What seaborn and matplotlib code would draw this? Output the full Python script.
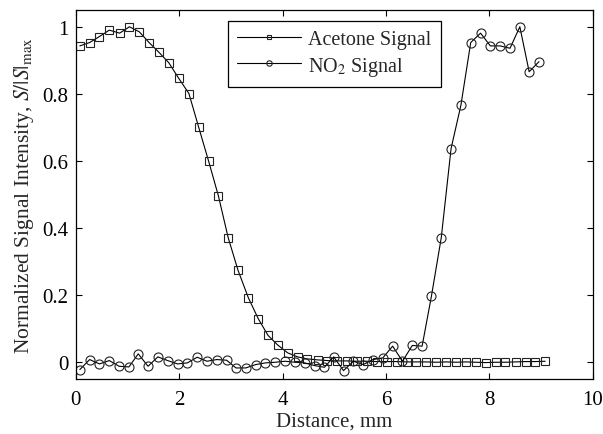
import matplotlib
matplotlib.use("Agg")
import matplotlib.pyplot as plt
import seaborn as sns
import pandas as pd

acetone_x = [0.08, 0.27, 0.46, 0.65, 0.85, 1.04, 1.23, 1.42, 1.61, 1.80,
             1.99, 2.19, 2.38, 2.57, 2.76, 2.95, 3.14, 3.34, 3.53, 3.72,
             3.91, 4.10, 4.29, 4.48, 4.68, 4.87, 5.06, 5.25, 5.44, 5.63,
             5.82, 6.02, 6.21, 6.40, 6.59, 6.78, 6.97, 7.17, 7.36, 7.55,
             7.74, 7.93, 8.12, 8.31, 8.51, 8.70, 8.89, 9.08]
acetone_y = [0.943, 0.953, 0.971, 0.990, 0.981, 1.0, 0.985, 0.953, 0.924, 0.893,
             0.847, 0.801, 0.700, 0.600, 0.496, 0.371, 0.274, 0.192, 0.130, 0.080,
             0.051, 0.028, 0.016, 0.010, 0.007, 0.005, 0.004, 0.004, 0.003, 0.003,
             0.002, 0.002, 0.002, 0.001, 0.001, 0.001, 0.0, 0.001, 0.0, 0.001,
             0.0, -0.001, 0.0, 0.0, 0.001, 0.002, 0.002, 0.003]

no2_x = [0.08, 0.27, 0.46, 0.65, 0.84, 1.03, 1.21, 1.40, 1.59, 1.78,
         1.97, 2.16, 2.35, 2.54, 2.73, 2.92, 3.10, 3.29, 3.48, 3.67,
         3.86, 4.05, 4.24, 4.43, 4.62, 4.81, 4.99, 5.18, 5.37, 5.56,
         5.75, 5.94, 6.13, 6.32, 6.51, 6.70, 6.88, 7.07, 7.26, 7.45,
         7.64, 7.83, 8.02, 8.21, 8.40, 8.59, 8.77, 8.96]
no2_y = [-0.022, 0.008, -0.005, 0.005, -0.012, -0.014, 0.025, -0.012, 0.016, 0.005,
         -0.005, -0.002, 0.015, 0.003, 0.008, 0.006, -0.017, -0.017, -0.007, -0.002,
         0.0, 0.003, 0.0, -0.002, -0.010, -0.015, 0.016, -0.025, 0.003, -0.007,
         0.008, 0.013, 0.048, 0.003, 0.050, 0.048, 0.197, 0.371, 0.637, 0.766,
         0.953, 0.981, 0.943, 0.943, 0.936, 1.0, 0.866, 0.896]

x_ticks = [0, 2, 4, 6, 8, 10]
y_ticks = [0, 0.2, 0.4, 0.6, 0.8, 1.0]
y_tick_labels = ["0", "0.2", "0.4", "0.6", "0.8", "1"]

sns.set_style("ticks")
plt.rcParams["font.family"] = ["Liberation Serif", "DejaVu Serif"]
plt.rcParams["mathtext.fontset"] = "stix"

fig = plt.figure(figsize=(6.03, 4.35), dpi=100)
ax = fig.add_axes([0.1255, 0.1264, 0.983 - 0.1255, 0.9747 - 0.1264])

df_a = pd.DataFrame({"x": acetone_x, "y": acetone_y})
df_n = pd.DataFrame({"x": no2_x, "y": no2_y})

sns.lineplot(data=df_a, x="x", y="y", ax=ax, color="k", lw=0.8, marker="s",
             markersize=5.5, markerfacecolor="none", markeredgecolor="#222222",
             markeredgewidth=0.8, label="Acetone Signal", sort=False, estimator=None)
sns.lineplot(data=df_n, x="x", y="y", ax=ax, color="k", lw=0.8, marker="o",
             markersize=6.5, markerfacecolor="none", markeredgecolor="#222222",
             markeredgewidth=0.8, label="NO$_2$ Signal", sort=False, estimator=None)

ax.set_xlim(0, 10)
ax.set_ylim(-0.05, 1.05)
ax.set_xticks(x_ticks)
ax.set_xticklabels([str(t) for t in x_ticks])
ax.set_yticks(y_ticks)
ax.set_yticklabels(y_tick_labels)
ax.tick_params(direction="in", top=True, right=True, length=4, width=0.8,
               labelsize=15, colors="k", pad=5)
ax.tick_params(axis="x", pad=8)
for s in ax.spines.values():
    s.set_visible(True)
    s.set_linewidth(0.9)
    s.set_color("k")

ax.set_xlabel("Distance, mm", fontsize=15, labelpad=2)
ax.set_ylabel("Normalized Signal Intensity, $S/|S|_{\\max}$", fontsize=15.5, labelpad=5)

leg = ax.legend(loc="upper center", bbox_to_anchor=(0.5, 0.971), fontsize=14.5,
                frameon=True, fancybox=False, edgecolor="k", framealpha=1,
                handlelength=3.2, markerscale=0.6, borderpad=0.45,
                borderaxespad=0, labelspacing=0.28, handletextpad=0.35)
leg.get_frame().set_linewidth(0.9)

fig.savefig("out.png", dpi=100)
